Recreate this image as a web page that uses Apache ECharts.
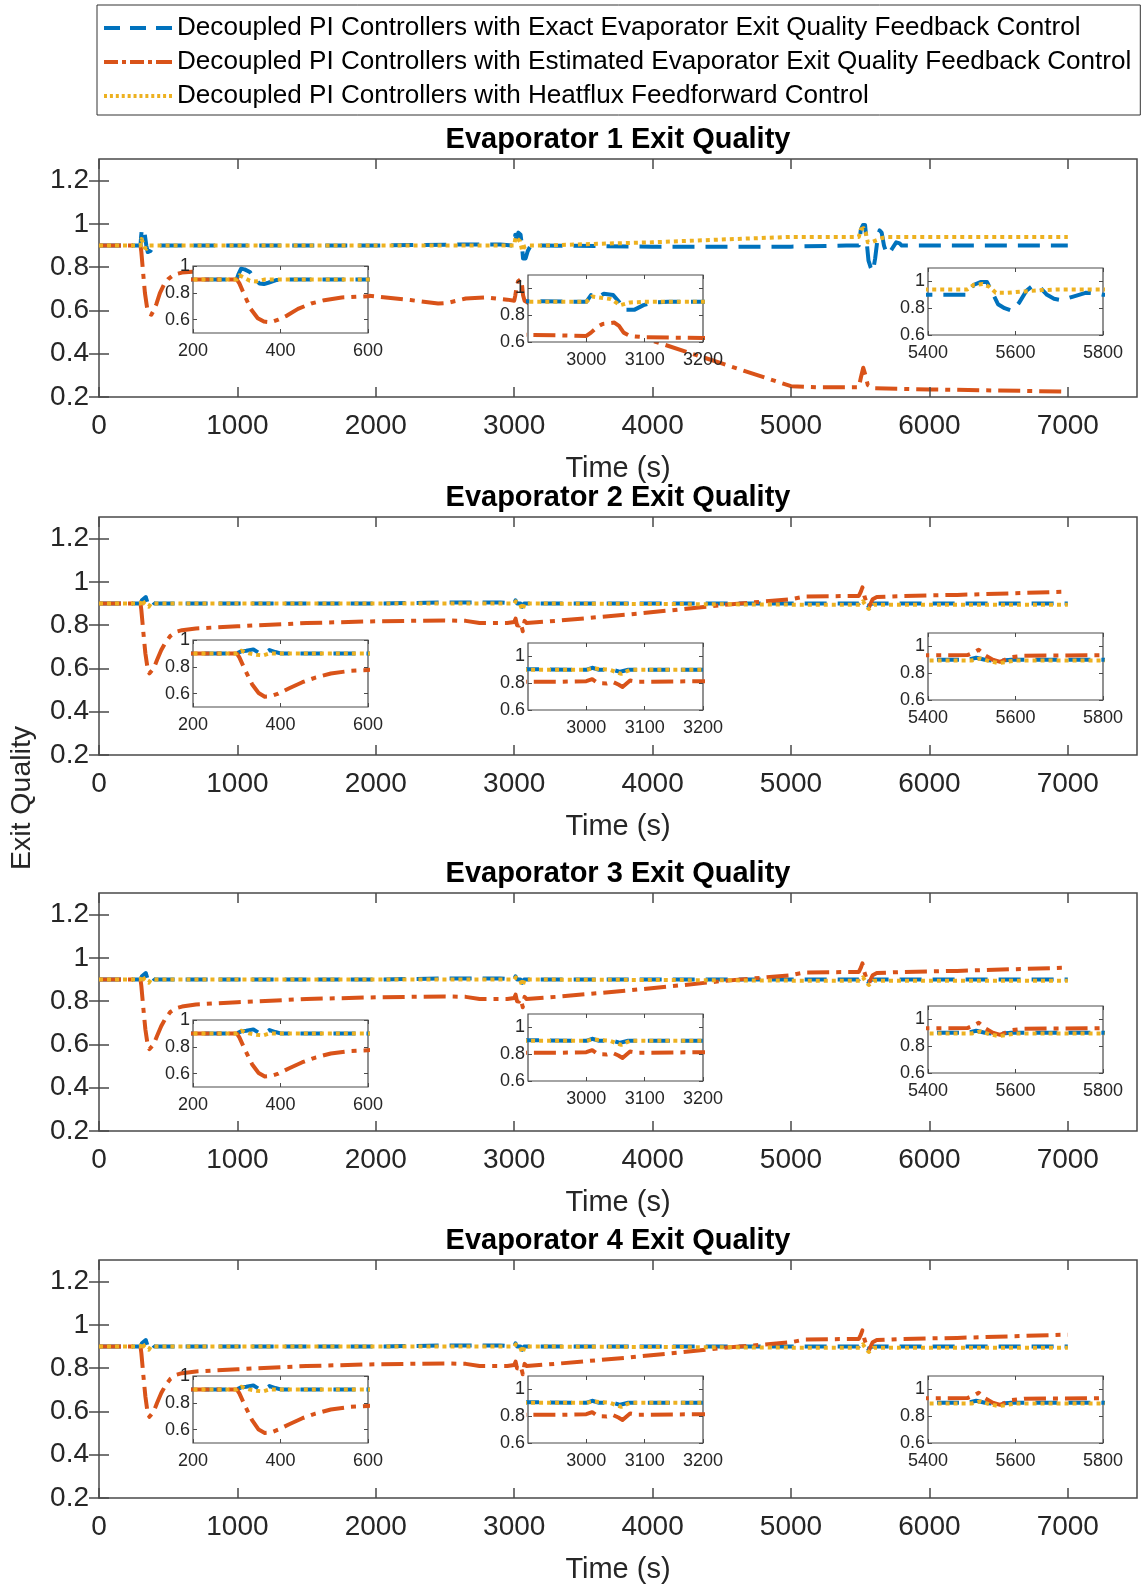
<!DOCTYPE html>
<html><head><meta charset="utf-8">
<script src="https://cdn.jsdelivr.net/npm/echarts@6/dist/echarts.min.js"></script>
<style>html,body{margin:0;padding:0;background:#fff}#chart{width:1141px;height:1585px}</style>
</head><body><div id="chart"></div>
<script>
// ---------------- DATA ----------------
const seriesNames = [
  'Decoupled PI Controllers with Exact Evaporator Exit Quality Feedback Control',
  'Decoupled PI Controllers with Estimated Evaporator Exit Quality Feedback Control',
  'Decoupled PI Controllers with Heatflux Feedforward Control'
];
const panelTitles = ['Evaporator 1 Exit Quality','Evaporator 2 Exit Quality','Evaporator 3 Exit Quality','Evaporator 4 Exit Quality'];
const xAxisName = 'Time (s)';
const yAxisName = 'Exit Quality';
const mainXTicks = [0,1000,2000,3000,4000,5000,6000,7000];
const mainYTicks = [0.2,0.4,0.6,0.8,1,1.2];
const mainXRange = [0,7500];
const mainYRange = [0.2,1.3];
const insetXRanges = [[200,600],[2900,3200],[5400,5800]];
const insetXTicks = [[200,400,600],[3000,3100,3200],[5400,5600,5800]];
const insetYRanges = [[0.5,1.0],[0.6,1.1],[0.6,1.1]];
const insetYTicks = [0.6,0.8,1];

// Evaporator 1  [time (s), exit quality]
const evap1Exact = [[0,0.9],[300,0.9],[304,0.94],[310,0.98],[318,0.975],[330,0.955],[342,0.9],[352,0.87],[362,0.865],[372,0.875],[390,0.895],[420,0.9],[1000,0.9],[2000,0.9],[2600,0.905],[2900,0.905],[3000,0.9],[3008,0.95],[3018,0.93],[3030,0.96],[3046,0.95],[3056,0.9],[3064,0.84],[3082,0.84],[3098,0.875],[3115,0.895],[3140,0.9],[3200,0.9],[4000,0.895],[5000,0.895],[5400,0.9],[5490,0.9],[5505,0.975],[5520,0.995],[5535,0.995],[5545,0.93],[5560,0.83],[5575,0.8],[5592,0.78],[5608,0.84],[5625,0.93],[5640,0.97],[5655,0.96],[5672,0.9],[5688,0.87],[5705,0.86],[5730,0.885],[5760,0.915],[5785,0.91],[5800,0.9],[6000,0.9],[7000,0.9]];
const evap1Estimated = [[0,0.9],[300,0.9],[306,0.87],[318,0.78],[332,0.68],[348,0.61],[362,0.585],[378,0.58],[395,0.6],[415,0.63],[440,0.68],[470,0.72],[500,0.745],[540,0.765],[600,0.775],[700,0.78],[850,0.77],[1100,0.74],[1400,0.71],[1700,0.685],[2000,0.665],[2250,0.648],[2450,0.632],[2520,0.635],[2650,0.655],[2800,0.66],[2950,0.65],[3000,0.645],[3008,0.67],[3018,0.71],[3028,0.735],[3048,0.745],[3056,0.72],[3064,0.67],[3075,0.645],[3100,0.635],[3200,0.63],[3600,0.545],[4000,0.46],[4500,0.355],[5000,0.25],[5200,0.245],[5490,0.245],[5505,0.29],[5522,0.335],[5538,0.3],[5555,0.255],[5600,0.24],[6000,0.235],[6500,0.23],[7000,0.225]];
const evap1Feedforward = [[0,0.9],[300,0.9],[306,0.93],[316,0.915],[330,0.89],[345,0.885],[365,0.9],[1000,0.9],[2000,0.9],[2900,0.9],[3000,0.9],[3010,0.94],[3025,0.93],[3042,0.92],[3058,0.875],[3075,0.895],[3100,0.9],[3200,0.9],[3600,0.908],[4000,0.915],[4500,0.928],[5000,0.94],[5400,0.94],[5490,0.94],[5505,0.975],[5525,0.98],[5540,0.96],[5555,0.915],[5580,0.915],[5620,0.925],[5660,0.935],[5700,0.94],[6000,0.94],[7000,0.94]];

// Evaporator 2
const evap2Exact = [[0,0.9],[300,0.9],[310,0.915],[322,0.92],[338,0.93],[350,0.905],[362,0.9],[375,0.925],[388,0.91],[400,0.9],[1000,0.9],[2000,0.9],[2500,0.905],[2900,0.905],[3000,0.9],[3010,0.915],[3022,0.9],[3045,0.9],[3058,0.885],[3072,0.9],[3200,0.9],[4000,0.9],[5000,0.9],[5490,0.9],[5510,0.915],[5530,0.9],[5555,0.89],[5590,0.9],[7000,0.9]];
const evap2Estimated = [[0,0.9],[300,0.9],[306,0.87],[320,0.77],[335,0.67],[350,0.605],[364,0.577],[378,0.58],[395,0.6],[420,0.64],[450,0.685],[480,0.72],[515,0.75],[560,0.77],[600,0.777],[700,0.785],[1000,0.795],[1500,0.81],[2000,0.818],[2500,0.822],[2650,0.82],[2750,0.81],[2950,0.81],[3000,0.815],[3010,0.83],[3020,0.8],[3035,0.798],[3045,0.81],[3055,0.79],[3062,0.772],[3075,0.82],[3090,0.81],[3300,0.82],[3800,0.848],[4200,0.873],[4500,0.893],[5000,0.92],[5100,0.933],[5490,0.935],[5505,0.955],[5516,0.975],[5530,0.935],[5548,0.9],[5565,0.885],[5590,0.92],[5620,0.93],[5800,0.935],[6200,0.94],[7000,0.955]];
const evap2Feedforward = [[0,0.9],[300,0.9],[310,0.92],[328,0.9],[345,0.89],[360,0.885],[375,0.9],[1000,0.9],[2000,0.9],[3000,0.9],[3012,0.91],[3040,0.9],[3060,0.87],[3075,0.9],[3200,0.9],[4000,0.898],[5000,0.895],[5500,0.895],[5520,0.91],[5540,0.89],[5562,0.875],[5600,0.895],[7000,0.895]];

// Evaporator 3
const evap3Exact = [[0,0.9],[300,0.9],[310,0.915],[322,0.92],[338,0.93],[350,0.905],[362,0.9],[375,0.925],[388,0.91],[400,0.9],[1000,0.9],[2000,0.9],[2500,0.905],[2900,0.905],[3000,0.9],[3010,0.915],[3022,0.9],[3045,0.9],[3058,0.885],[3072,0.9],[3200,0.9],[4000,0.9],[5000,0.9],[5490,0.9],[5510,0.915],[5530,0.9],[5555,0.89],[5590,0.9],[7000,0.9]];
const evap3Estimated = [[0,0.9],[300,0.9],[306,0.87],[320,0.77],[335,0.67],[350,0.605],[364,0.578],[378,0.582],[395,0.6],[420,0.64],[450,0.685],[480,0.72],[515,0.75],[560,0.768],[600,0.775],[700,0.785],[1000,0.795],[1500,0.81],[2000,0.818],[2500,0.822],[2650,0.82],[2750,0.81],[2950,0.81],[3000,0.815],[3010,0.83],[3020,0.8],[3035,0.798],[3045,0.81],[3055,0.79],[3062,0.772],[3075,0.82],[3090,0.81],[3300,0.82],[3800,0.848],[4200,0.873],[4500,0.893],[5000,0.92],[5100,0.933],[5490,0.935],[5505,0.955],[5516,0.975],[5530,0.935],[5548,0.9],[5565,0.885],[5590,0.92],[5620,0.93],[5800,0.935],[6200,0.94],[7000,0.955]];
const evap3Feedforward = [[0,0.9],[300,0.9],[310,0.92],[328,0.9],[345,0.89],[360,0.885],[375,0.9],[1000,0.9],[2000,0.9],[3000,0.9],[3012,0.91],[3040,0.9],[3060,0.87],[3075,0.9],[3200,0.9],[4000,0.898],[5000,0.895],[5500,0.895],[5520,0.91],[5540,0.89],[5562,0.875],[5600,0.895],[7000,0.895]];

// Evaporator 4
const evap4Exact = [[0,0.9],[300,0.9],[310,0.915],[322,0.92],[338,0.93],[350,0.905],[362,0.9],[375,0.925],[388,0.91],[400,0.9],[1000,0.9],[2000,0.9],[2500,0.905],[2900,0.905],[3000,0.9],[3010,0.915],[3022,0.9],[3045,0.9],[3058,0.885],[3072,0.9],[3200,0.9],[4000,0.9],[5000,0.9],[5490,0.9],[5510,0.915],[5530,0.9],[5555,0.89],[5590,0.9],[7000,0.9]];
const evap4Estimated = [[0,0.9],[300,0.9],[306,0.87],[320,0.77],[335,0.67],[350,0.6],[364,0.575],[378,0.578],[395,0.6],[420,0.64],[450,0.685],[480,0.72],[515,0.75],[560,0.77],[600,0.777],[700,0.785],[1000,0.795],[1500,0.81],[2000,0.818],[2500,0.822],[2650,0.82],[2750,0.81],[2950,0.81],[3000,0.815],[3010,0.83],[3020,0.8],[3035,0.798],[3045,0.81],[3055,0.79],[3062,0.772],[3075,0.82],[3090,0.81],[3300,0.82],[3800,0.848],[4200,0.873],[4500,0.893],[5000,0.92],[5100,0.933],[5490,0.935],[5505,0.955],[5516,0.975],[5530,0.935],[5548,0.9],[5565,0.885],[5590,0.92],[5620,0.93],[5800,0.935],[6200,0.94],[7000,0.955]];
const evap4Feedforward = [[0,0.9],[300,0.9],[310,0.92],[328,0.9],[345,0.89],[360,0.885],[375,0.9],[1000,0.9],[2000,0.9],[3000,0.9],[3012,0.91],[3040,0.9],[3060,0.87],[3075,0.9],[3200,0.9],[4000,0.898],[5000,0.895],[5500,0.895],[5520,0.91],[5540,0.89],[5562,0.875],[5600,0.895],[7000,0.895]];

const panelData = [
  [evap1Exact, evap1Estimated, evap1Feedforward],
  [evap2Exact, evap2Estimated, evap2Feedforward],
  [evap3Exact, evap3Estimated, evap3Feedforward],
  [evap4Exact, evap4Estimated, evap4Feedforward]
];

// ---------------- LAYOUT / STYLE ----------------
const FONT = '"Liberation Sans", Arial, Helvetica, sans-serif';
const colors = ['#0072BD','#D95319','#EDB120'];
const dashTypes = [[22,11],[22,7,5,7],[4,4]];
const lineWidth = 4;
const axisColor = '#4a4a4a';
const textColor = '#262626';
const mainLeft = 99, mainWidth = 1038, mainHeight = 238;
const mainTops = [159, 517, 893, 1260];
const insetLefts = [193, 528, 928];
const insetWidth = 175, insetHeight = 67;
const insetTops = [[266,275,268],[640,643,633],[1020,1014,1006],[1376,1376,1376]];

// legend icons drawn as dash patterns (68 x 4 box)
function rectsPath(segs) {
  return 'path://' + segs.map(s => `M${s[0]},0H${s[1]}V4H${s[0]}Z`).join(' ');
}
const dotSegs = [];
for (let i = 0; i < 12; i++) { const x = i * 65 / 11; dotSegs.push([+x.toFixed(2), +(x + 3).toFixed(2)]); }
const legendIcons = [
  rectsPath([[0,16],[26,42],[52,68]]),
  rectsPath([[0,14],[18,22],[26,40],[44,48],[52,68]]),
  rectsPath(dotSegs)
];

const grids = [], xAxes = [], yAxes = [], series = [], graphics = [];
let gIdx = 0;

function addGrid(rect, isInset, xr, yr, xt, yt, withName) {
  const g = gIdx++;
  const zBase = isInset ? 10 : 0;
  grids.push({left: rect.left, top: rect.top, width: rect.width, height: rect.height,
    show: true, backgroundColor: '#ffffff', borderColor: axisColor, borderWidth: isInset ? 1.2 : 1.5, z: zBase});
  const tickLen = isInset ? 4 : 10;
  const fs = isInset ? 18 : 28;
  const tickStyle = {color: axisColor, width: isInset ? 1 : 1.5};
  xAxes.push({type: 'value', gridIndex: g, min: xr[0], max: xr[1], position: 'bottom', z: zBase + 3,
    axisLine: {show: false}, splitLine: {show: false},
    axisTick: {show: true, inside: true, length: tickLen, customValues: xt, lineStyle: tickStyle},
    axisLabel: {show: true, customValues: xt, fontSize: fs, color: textColor, fontFamily: FONT, margin: isInset ? 9 : 15,
      formatter: v => String(v)},
    name: withName ? xAxisName : '', nameLocation: 'middle', nameGap: 57,
    nameTextStyle: {fontSize: 29, color: textColor, fontFamily: FONT}});
  xAxes.push({type: 'value', gridIndex: g, min: xr[0], max: xr[1], position: 'top', z: zBase + 3,
    axisLine: {show: false}, splitLine: {show: false},
    axisTick: {show: true, inside: true, length: tickLen, customValues: xt, lineStyle: tickStyle},
    axisLabel: {show: false}});
  yAxes.push({type: 'value', gridIndex: g, min: yr[0], max: yr[1], position: 'left', z: zBase + 3,
    axisLine: {show: false}, splitLine: {show: false},
    axisTick: {show: true, inside: true, length: tickLen, customValues: yt, lineStyle: tickStyle},
    axisLabel: {show: true, customValues: yt, fontSize: fs, color: textColor, fontFamily: FONT, margin: isInset ? 3 : 10,
      formatter: v => String(Math.round(v * 10) / 10)}});
  yAxes.push({type: 'value', gridIndex: g, min: yr[0], max: yr[1], position: 'right', z: zBase + 3,
    axisLine: {show: false}, splitLine: {show: false},
    axisTick: {show: true, inside: true, length: tickLen, customValues: yt, lineStyle: tickStyle},
    axisLabel: {show: false}});
  return g;
}

function addSeries(g, dataSet, isInset) {
  for (let k = 0; k < 3; k++) {
    series.push({type: 'line', name: seriesNames[k], data: dataSet[k],
      xAxisIndex: 2 * g, yAxisIndex: 2 * g, symbol: 'none', showSymbol: false, clip: true,
      silent: true, animation: false, z: (isInset ? 12 : 2) + k * 0.01,
      lineStyle: {color: colors[k], width: lineWidth, type: dashTypes[k], cap: 'butt', join: 'round'},
      itemStyle: {color: colors[k]}});
  }
}

for (let p = 0; p < 4; p++) {
  const g = addGrid({left: mainLeft, top: mainTops[p], width: mainWidth, height: mainHeight}, false,
    mainXRange, mainYRange, mainXTicks, mainYTicks, true);
  addSeries(g, panelData[p], false);
  for (let i = 0; i < 3; i++) {
    const gi = addGrid({left: insetLefts[i], top: insetTops[p][i], width: insetWidth, height: insetHeight}, true,
      insetXRanges[i], insetYRanges[i], insetXTicks[i], insetYTicks, false);
    addSeries(gi, panelData[p], true);
  }
  graphics.push({type: 'text', x: mainLeft + mainWidth / 2, y: mainTops[p] - 19, z: 50,
    style: {text: panelTitles[p], font: 'bold 29px ' + FONT, fill: '#000',
      align: 'center', verticalAlign: 'middle', textAlign: 'center', textVerticalAlign: 'middle'}});
}
graphics.push({type: 'text', x: 22, y: 798, rotation: Math.PI / 2, z: 50,
  style: {text: yAxisName, font: '28.5px ' + FONT, fill: textColor,
    align: 'center', verticalAlign: 'middle', textAlign: 'center', textVerticalAlign: 'middle'}});

const chart = echarts.init(document.getElementById('chart'), null, {renderer: 'canvas'});
chart.setOption({
  backgroundColor: '#ffffff',
  animation: false,
  legend: {data: seriesNames.map((n, k) => ({name: n, icon: legendIcons[k], itemStyle: {color: colors[k], borderWidth: 0}})),
    orient: 'vertical', left: 97, top: 5, z: 60,
    itemWidth: 68, itemHeight: 4, itemGap: 8, padding: [10, 9, 6, 7], symbolKeepAspect: false,
    borderColor: '#333', borderWidth: 1, backgroundColor: '#fff', selectedMode: false,
    textStyle: {fontSize: 26.1, color: '#000', fontFamily: FONT}},
  grid: grids, xAxis: xAxes, yAxis: yAxes, series: series, graphic: graphics
});
</script></body></html>
